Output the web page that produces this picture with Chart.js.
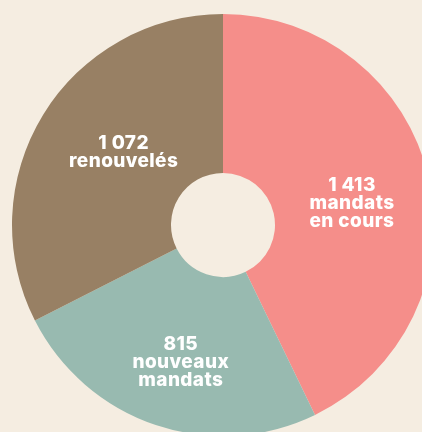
<!DOCTYPE html>
<html lang="fr">
<head>
    <meta charset="UTF-8">
    <title>Mandats</title>
    <script src="https://cdn.jsdelivr.net/npm/chart.js"></script>
    <style>
        html, body { margin: 0; padding: 0; background: #f5ede1; }
        .wrap { width: 422px; height: 432px; overflow: hidden; position: relative; }
        #mandats { position: absolute; left: 0; top: 0; }
    </style>
</head>
<body>
    <div class="wrap">
        <canvas id="mandats" width="446" height="450"></canvas>
    </div>

    <script>
        const categories = ["mandats en cours", "nouveaux mandats", "renouvelés"];
        const values = [1413, 815, 1072];
        const valueLabels = ["1 413", "815", "1 072"];
        const labelLines = [["mandats", "en cours"], ["nouveaux", "mandats"], ["renouvelés"]];

        const colors = ["#f58e8a", "#98bab0", "#988064"];
        // where to put each label: distance from centre, angle nudge in degrees
        const labelDist = [131, 142, 124];
        const labelNudge = [2.8, -1.3, 5.2];

        const sliceLabels = {
            id: "sliceLabels",
            afterDatasetsDraw(chart) {
                const ctx = chart.ctx;
                const arcs = chart.getDatasetMeta(0).data;
                ctx.save();
                ctx.fillStyle = "#ffffff";
                ctx.font = "800 19px Inter";
                ctx.letterSpacing = "0.4px";
                ctx.textAlign = "center";
                ctx.textBaseline = "alphabetic";
                arcs.forEach((arc, i) => {
                    const mid = (arc.startAngle + arc.endAngle) / 2 + labelNudge[i] * Math.PI / 180;
                    const cx = arc.x + Math.cos(mid) * labelDist[i];
                    const cy = arc.y + Math.sin(mid) * labelDist[i];
                    const lines = [valueLabels[i]].concat(labelLines[i]);
                    lines.forEach((t, j) => {
                        const y = cy + (j - (lines.length - 1) / 2) * 18 + 7;
                        ctx.fillText(t, cx, y);
                    });
                });
                ctx.restore();
            }
        };

        new Chart(document.getElementById("mandats"), {
            type: "doughnut",
            data: {
                labels: categories,
                datasets: [{
                    data: values,
                    backgroundColor: colors,
                    borderWidth: 0,
                    hoverOffset: 0
                }]
            },
            options: {
                responsive: false,
                animation: false,
                cutout: 52,
                layout: { padding: { left: 11, right: 11, top: 14, bottom: 14 } },
                plugins: {
                    legend: { display: false },
                    tooltip: { enabled: false }
                },
                events: []
            },
            plugins: [sliceLabels]
        });
    </script>
</body>
</html>
